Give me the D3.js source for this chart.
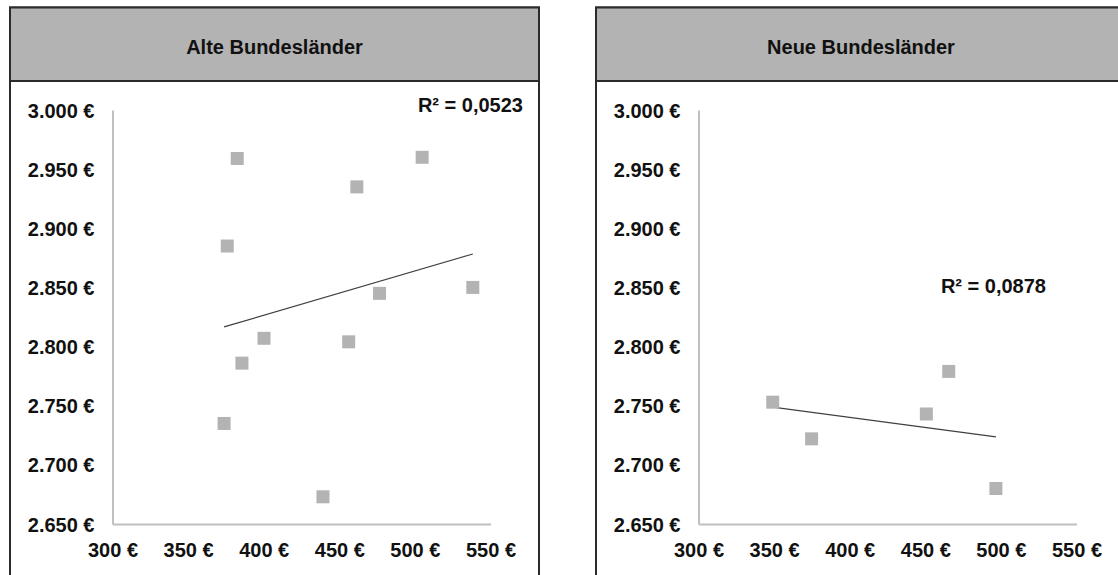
<!DOCTYPE html>
<html>
<head>
<meta charset="utf-8">
<script src="https://cdn.jsdelivr.net/npm/d3@7"></script>
<style>
  html, body { margin: 0; padding: 0; background: #ffffff; }
  svg { display: block; font-family: "Liberation Sans", Arial, sans-serif; }
</style>
</head>
<body>
<svg id="chart" width="1118" height="575"></svg>
<script>
// ---- data ----
const panelTitles = ["Alte Bundesländer", "Neue Bundesländer"];
const r2Labels = ["R² = 0,0523", "R² = 0,0878"];
const xTicks = [300, 350, 400, 450, 500, 550];
const yTicks = [2650, 2700, 2750, 2800, 2850, 2900, 2950, 3000];
const alteX = [382.5, 375.9, 400.2, 504.8, 461.6, 476.6, 538.3, 456.2, 385.6, 373.8, 439.2];
const alteY = [2959, 2885, 2807, 2960, 2935, 2845, 2850, 2804, 2786, 2735, 2673];
const neueX = [349.1, 374.8, 450.7, 465.5, 496.7];
const neueY = [2753, 2722, 2743, 2779, 2680];

const locale = d3.formatLocale({ decimal: ",", thousands: ".", grouping: [3], currency: ["", " €"] });
const fmt = locale.format(",.0f");
const euro = v => fmt(v) + " €";

const svg = d3.select("#chart");

const panels = [
  { left: 10, right: 539, xs: alteX, ys: alteY, r2pos: { x: 523, y: 105 } },
  { left: 596, right: 1126, xs: neueX, ys: neueY, r2pos: { x: 1046, y: 286 } }
];

function regression(xs, ys) {
  const mx = d3.mean(xs), my = d3.mean(ys);
  let sxy = 0, sxx = 0;
  xs.forEach((x, i) => { sxy += (x - mx) * (ys[i] - my); sxx += (x - mx) * (x - mx); });
  const b = sxy / sxx;
  return x => my + b * (x - mx);
}

panels.forEach((p, idx) => {
  const g = svg.append("g");
  const top = 7.5, headerBottom = 81;
  // panel frame
  g.append("rect").attr("x", p.left).attr("y", top)
    .attr("width", p.right - p.left).attr("height", 600)
    .attr("fill", "#ffffff").attr("stroke", "#2b2b2b").attr("stroke-width", 2);
  g.append("rect").attr("x", p.left).attr("y", top)
    .attr("width", p.right - p.left).attr("height", headerBottom - top)
    .attr("fill", "#b3b3b3").attr("stroke", "#2b2b2b").attr("stroke-width", 2);
  g.append("text").attr("x", (p.left + p.right) / 2).attr("y", 47)
    .attr("text-anchor", "middle").attr("dominant-baseline", "central")
    .attr("font-size", 20).attr("font-weight", "bold").attr("fill", "#111")
    .text(panelTitles[idx]);

  const x0 = p.left + 102.5;
  const x = d3.scaleLinear().domain([300, 550]).range([x0, x0 + 378]);
  const y = d3.scaleLinear().domain([2650, 3000]).range([524, 110]);

  const ya = g.append("g").attr("transform", `translate(${x0},0)`)
    .call(d3.axisLeft(y).tickValues(yTicks).tickFormat(euro).tickSize(0).tickPadding(18));
  const xa = g.append("g").attr("transform", `translate(0,524)`)
    .call(d3.axisBottom(x).tickValues(xTicks).tickFormat(euro).tickSize(0).tickPadding(19));
  [ya, xa].forEach(a => {
    a.select(".domain").attr("stroke", "#bfbfbf").attr("stroke-width", 2);
    a.selectAll("text").attr("font-size", 20).attr("font-weight", "bold")
      .attr("fill", "#111").attr("font-family", "'Liberation Sans', Arial, sans-serif");
  });
  ya.selectAll("text").attr("dy", "0.35em");

  // trend line
  const f = regression(p.xs, p.ys);
  const [mn, mxv] = d3.extent(p.xs);
  g.append("line").attr("x1", x(mn)).attr("y1", y(f(mn)))
    .attr("x2", x(mxv)).attr("y2", y(f(mxv)))
    .attr("stroke", "#404040").attr("stroke-width", 1.2);

  // markers
  const s = 13;
  g.selectAll("rect.pt").data(p.xs.map((v, i) => [v, p.ys[i]])).enter()
    .append("rect").attr("class", "pt")
    .attr("x", d => x(d[0]) - s / 2).attr("y", d => y(d[1]) - s / 2)
    .attr("width", s).attr("height", s).attr("fill", "#b3b3b3");

  g.append("text").attr("x", p.r2pos.x).attr("y", p.r2pos.y)
    .attr("text-anchor", "end").attr("dominant-baseline", "central")
    .attr("font-size", 20).attr("font-weight", "bold").attr("fill", "#111")
    .text(r2Labels[idx]);
});
</script>
</body>
</html>
